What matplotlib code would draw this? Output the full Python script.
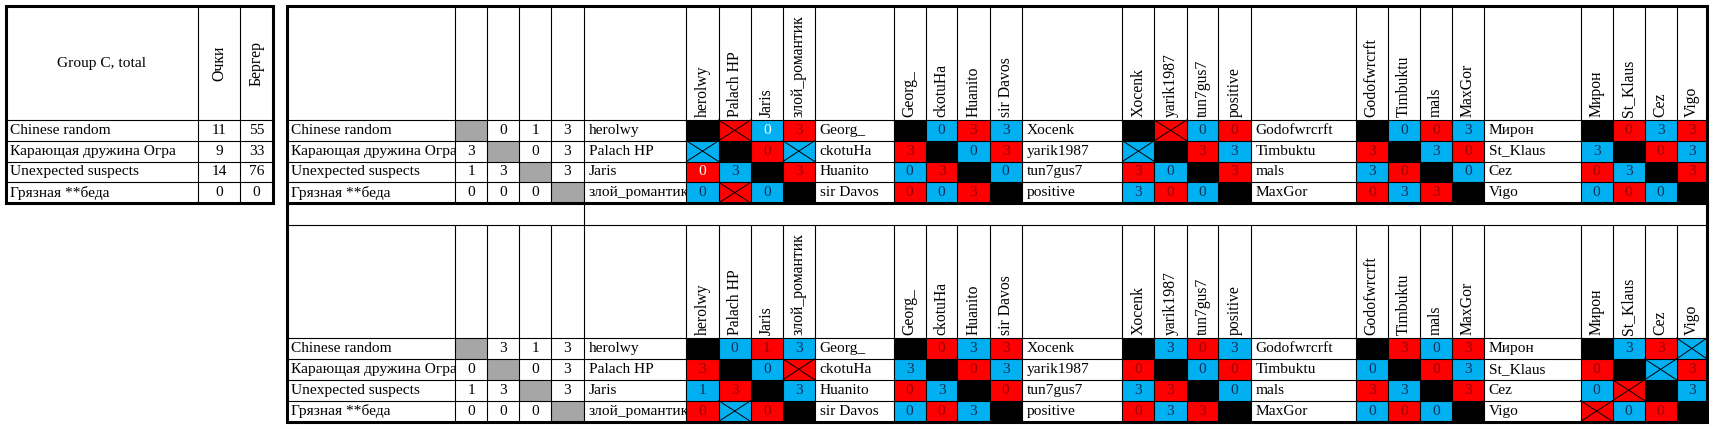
import matplotlib
matplotlib.use('Agg')
import matplotlib.pyplot as plt
from matplotlib.patches import Rectangle

plt.rcParams['font.family'] = ['Liberation Serif', 'DejaVu Serif']

# ---------------- data ----------------
teams = ["Chinese random", "Карающая дружина Огра", "Unexpected suspects", "Грязная **беда"]
summary_title = "Group C, total"
summary_cols = ["Очки", "Бергер"]
points = [11, 9, 14, 0]
berger = [55, 33, 76, 0]

team_results_top = [[None, 0, 1, 3], [3, None, 0, 3], [1, 3, None, 3], [0, 0, 0, None]]
team_results_bottom = [[None, 3, 1, 3], [0, None, 0, 3], [1, 3, None, 3], [0, 0, 0, None]]

groups = [
    ["herolwy", "Palach HP", "Jaris", "злой_романтик"],
    ["Georg_", "ckotuHa", "Huanito", "sir Davos"],
    ["Xocenk", "yarik1987", "tun7gus7", "positive"],
    ["Godofwrcrft", "Timbuktu", "mals", "MaxGor"],
    ["Мирон", "St_Klaus", "Cez", "Vigo"],
]

# cell codes: K = diagonal (black), R/B = red/blue background, then value or X (crossed), w = white text
games_top = [
    [["K", "RX", "B0w", "R3"], ["BX", "K", "R0", "BX"], ["R0w", "B3", "K", "R3"], ["B0", "RX", "B0", "K"]],
    [["K", "B0", "R3", "B3"], ["R3", "K", "B0", "R3"], ["B0", "R3", "K", "B0"], ["R0", "B0", "R3", "K"]],
    [["K", "RX", "B0", "R0"], ["BX", "K", "R3", "B3"], ["R3", "B0", "K", "R3"], ["B3", "R0", "B0", "K"]],
    [["K", "B0", "R0", "B3"], ["R3", "K", "B3", "R0"], ["B3", "R0", "K", "B0"], ["R0", "B3", "R3", "K"]],
    [["K", "R0", "B3", "R3"], ["B3", "K", "R0", "B3"], ["R0", "B3", "K", "R3"], ["B0", "R0", "B0", "K"]],
]
games_bottom = [
    [["K", "B0", "R1", "B3"], ["R3", "K", "B0", "RX"], ["B1", "R3", "K", "B3"], ["R0", "BX", "R0", "K"]],
    [["K", "R0", "B3", "R3"], ["B3", "K", "R0", "B3"], ["R0", "B3", "K", "R0"], ["B0", "R0", "B3", "K"]],
    [["K", "B3", "R0", "B3"], ["R0", "K", "B0", "R0"], ["B3", "R3", "K", "B0"], ["R0", "B3", "R3", "K"]],
    [["K", "R3", "B0", "R3"], ["B0", "K", "R0", "B3"], ["R3", "B3", "K", "R3"], ["B0", "R0", "B0", "K"]],
    [["K", "B3", "R3", "BX"], ["R0", "K", "BX", "R3"], ["B0", "RX", "K", "B3"], ["RX", "B0", "R0", "K"]],
]

# ---------------- style / layout ----------------
RED = "#FF0000"
BLUE = "#00B0F0"
GREY = "#A6A6A6"
RED_TXT = "#990000"
BLUE_TXT = "#10305A"
FS = 11.1
FS_HDR = 11.3
THICK = 2.2
THIN = 0.8

fig = plt.figure(figsize=(17.14, 4.29), dpi=100)
ax = fig.add_axes([0, 0, 1, 1])
ax.set_xlim(0, 1714)
ax.set_ylim(429, 0)
ax.axis('off')


def hline(y, x0, x1, lw=THIN):
    ax.plot([x0, x1], [y, y], color='k', lw=lw, solid_capstyle='projecting' if lw > 1 else 'butt', zorder=5)


def vline(x, y0, y1, lw=THIN):
    ax.plot([x, x], [y0, y1], color='k', lw=lw, solid_capstyle='projecting' if lw > 1 else 'butt', zorder=5)


def clipped_text(x, y, s, x0, x1, y0, y1, **kw):
    t = ax.text(x, y, s, fontsize=FS, va='center', zorder=4, **kw)
    t.set_clip_path(Rectangle((x0, y0), x1 - x0, y1 - y0, transform=ax.transData))
    t.set_clip_on(True)
    return t


# ---------------- left summary table ----------------
LX = [5.7, 198, 240.3, 273]
LY_TOP, LY_HDR = 6, 120
LROWS = [120, 140.75, 161.5, 182.25, 203]

for x in LX[1:-1]:
    vline(x, LY_TOP, LROWS[-1])
for y in LROWS[:-1]:
    hline(y, LX[0], LX[-1])
ax.add_patch(Rectangle((LX[0], LY_TOP), LX[-1] - LX[0], LROWS[-1] - LY_TOP, fill=False,
                       lw=THICK, ec='k', zorder=6, joinstyle='miter'))
ax.text((LX[0] + LX[1]) / 2, (LY_TOP + LY_HDR) / 2, summary_title, fontsize=FS, ha='center', va='center')
for j, lab in enumerate(summary_cols):
    ax.text((LX[j + 1] + LX[j + 2]) / 2, (LY_TOP + LY_HDR) / 2, lab, fontsize=FS_HDR, rotation=90,
            ha='center', va='center')
for i, name in enumerate(teams):
    yc = (LROWS[i] + LROWS[i + 1]) / 2
    clipped_text(LX[0] + 4, yc, name, LX[0], LX[1], LROWS[i], LROWS[i + 1], ha='left')
    ax.text((LX[1] + LX[2]) / 2, yc, str(points[i]), fontsize=FS, ha='center', va='center')
    ax.text((LX[2] + LX[3]) / 2, yc, str(berger[i]), fontsize=FS, ha='center', va='center')

# ---------------- main table ----------------
MX = [287, 455.4, 487.2, 519.3, 551.1, 583.6,
      686.4, 718.6, 750.7, 782.9, 814.6,
      893.6, 925.7, 957.5, 989.6, 1021.8,
      1122.5, 1154.3, 1186.7, 1218.3, 1250.7,
      1355.8, 1387.8, 1419.8, 1451.8, 1483.8,
      1580.6, 1612.6, 1644.6, 1676.6, 1707]


def draw_block(y_top, y_hdr, rows, team_res, games):
    for x in MX[1:-1]:
        vline(x, y_top, rows[-1])
    for y in rows[:-1]:
        hline(y, MX[0], MX[-1])
    for i, name in enumerate(teams):
        y0, y1 = rows[i], rows[i + 1]
        yc = (y0 + y1) / 2
        clipped_text(MX[0] + 4, yc, name, MX[0], MX[1], y0, y1, ha='left')
        for j in range(4):
            x0, x1 = MX[1 + j], MX[2 + j]
            v = team_res[i][j]
            if v is None:
                ax.add_patch(Rectangle((x0, y0), x1 - x0, y1 - y0, fc=GREY, ec='none', zorder=2))
            else:
                ax.text((x0 + x1) / 2, yc, str(v), fontsize=FS, ha='center', va='center', zorder=4)
    for g, players in enumerate(groups):
        base = 5 + g * 5
        nx0, nx1 = MX[base], MX[base + 1]
        for j, p in enumerate(players):
            cx0, cx1 = MX[base + 1 + j], MX[base + 2 + j]
            ax.text((cx0 + cx1) / 2, y_hdr - 3, p, fontsize=FS_HDR, rotation=90, ha='center', va='bottom', zorder=4)
        for i, p in enumerate(players):
            y0, y1 = rows[i], rows[i + 1]
            yc = (y0 + y1) / 2
            clipped_text(nx0 + 5, yc, p, nx0, nx1, y0, y1, ha='left')
            for j in range(4):
                code = games[g][i][j]
                x0, x1 = MX[base + 1 + j], MX[base + 2 + j]
                if code == "K":
                    ax.add_patch(Rectangle((x0, y0), x1 - x0, y1 - y0, fc='black', ec='none', zorder=2))
                    continue
                fc = RED if code[0] == "R" else BLUE
                ax.add_patch(Rectangle((x0, y0), x1 - x0, y1 - y0, fc=fc, ec='none', zorder=2))
                val = code[1]
                if val == "X":
                    ax.plot([x0, x1], [y0, y1], color='k', lw=0.7, zorder=3)
                    ax.plot([x0, x1], [y1, y0], color='k', lw=0.7, zorder=3)
                else:
                    if code.endswith("w"):
                        tc = 'white'
                    else:
                        tc = RED_TXT if code[0] == "R" else BLUE_TXT
                    ax.text((x0 + x1) / 2, yc, val, fontsize=FS, ha='center', va='center', color=tc, zorder=4)


TOP_ROWS = [120, 140.75, 161.5, 182.25, 203]
BOT_ROWS = [338, 358.9, 379.8, 400.6, 421.5]
draw_block(6, 120, TOP_ROWS, team_results_top, games_top)
draw_block(225, 338, BOT_ROWS, team_results_bottom, games_bottom)

# gap row
hline(225, MX[0], MX[-1])
vline(MX[5], 203, 225)
hline(203, MX[0], MX[-1], THICK)
ax.add_patch(Rectangle((MX[0], 6), MX[-1] - MX[0], 421.5 - 6, fill=False,
                       lw=THICK, ec='k', zorder=6, joinstyle='miter'))

fig.savefig("out.png", dpi=100)
